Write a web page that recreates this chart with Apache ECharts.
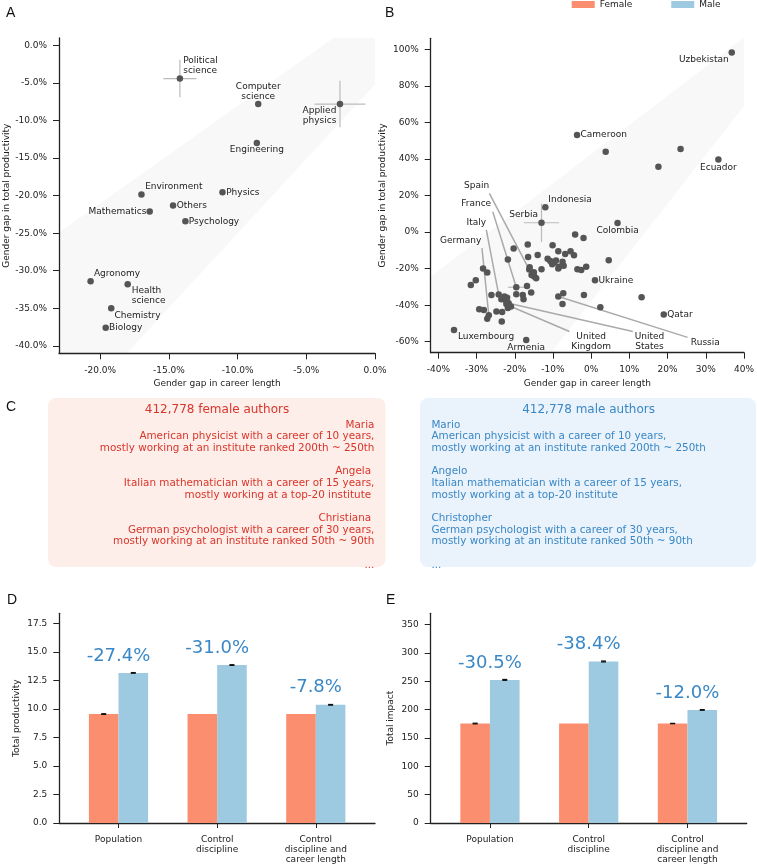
<!DOCTYPE html>
<html><head><meta charset="utf-8">
<script src="https://cdn.jsdelivr.net/npm/echarts@6/dist/echarts.min.js"></script>
<style>html,body{margin:0;padding:0;background:#fff}#c{width:757px;height:865px}</style>
</head><body><div id="c"></div>
<script>
// ---------- Panel A: disciplines ----------
const fieldNames = ['Political\nscience','Computer\nscience','Applied\nphysics','Engineering','Environment','Physics','Others','Mathematics','Psychology','Agronomy','Health\nscience','Chemistry','Biology'];
const fieldCareerGap = [-14.2,-8.5,-2.55,-8.6,-17.0,-11.1,-14.7,-16.4,-13.8,-20.7,-18.0,-19.2,-19.6];
const fieldProdGap   = [-4.4,-7.8,-7.8,-13.0,-19.85,-19.55,-21.3,-22.1,-23.4,-31.4,-31.8,-35.0,-37.6];
const fieldCareerErr = [1.2,0,1.85,0,0,0,0,0,0,0,0,0,0];
const fieldProdErr   = [2.5,0,3.1,0,0,0,0,0,0,0,0,0,0];
const bandAX = [-23,-3.03,0,0,-18.06,-23];
const bandAY = [-24.9,1,1,-5.2,-41,-41];
const ticksAX = [-20,-15,-10,-5,0];
const ticksAY = [-40,-35,-30,-25,-20,-15,-10,-5,0];

// ---------- Panel B: countries ----------
const countryNames = ['Uzbekistan','Cameroon','Ecuador','Indonesia','Serbia','Colombia','Ukraine','Qatar','Luxembourg','Armenia'];
const countryCareerGap = [36.8,-3.7,33.3,-12.0,-13.0,6.9,1.0,19.0,-35.9,-17.0];
const countryProdGap   = [98.2,53.1,39.7,13.6,5.1,4.9,-26.4,-45.1,-53.6,-59.0];
const leaderNames = ['Spain','France','Italy','Germany','United\nKingdom','United\nStates','Russia'];
const leaderCareerGap = [-16.2,-19.6,-24.2,-26.8,-21.0,-21.6,-8.6];
const leaderProdGap   = [-20.5,-30.2,-34.2,-45.5,-40.7,-39.0,-35.3];
const otherCareerGap = [3.8,23.4,17.6,-4.2,-2.0,4.6,-10.1,-4.5,-16.6,-20.3,-14.0,-16.5,-8.6,-6.8,-5.4,-21.8,-11.4,-10.7,-9.7,-9.2,-8.4,-7.5,-7.2,-8.6,-10.2,-28.3,-27.2,-16.1,-15.6,-14.4,-13.0,-15.0,-14.9,-3.6,-2.6,-1.3,-30.2,-31.5,-16.8,-26.1,-23.5,-22.7,-22.0,-22.2,-19.6,-17.9,-17.7,-15.7,-7.3,-7.5,-1.9,2.4,13.2,-29.3,-28.1,-27.2,-24.8,-23.3,-23.4,-21.8,-22.2];
const otherProdGap   = [43.9,45.5,35.7,-1.3,-3.3,-15.4,-7.2,-12.7,-6.8,-9.0,-12.5,-13.6,-10.5,-12.0,-10.5,-15.0,-14.6,-15.8,-16.8,-15.6,-19.0,-16.3,-18.4,-19.9,-17.6,-19.9,-22.1,-19.3,-23.5,-25.3,-20.4,-22.0,-24.3,-20.4,-20.8,-19.0,-26.3,-29.0,-29.5,-34.4,-36.7,-35.3,-35.9,-37.8,-34.0,-34.4,-36.7,-33.1,-33.5,-39.3,-34.4,-41.1,-35.7,-42.2,-42.6,-47.4,-43.5,-43.8,-48.9,-41.6,-39.3];
const errCountries = ['Serbia','France'];
const errCareerGap = [-13.0,-19.6];
const errProdGap   = [5.1,-30.2];
const errCareer    = [4.6,2.2];
const errProd      = [10.5,1.2];
const bandBX = [-42,39.7,40,40,-10.5,-42];
const bandBY = [-24.5,106,106,69,-66,-66];
const ticksBX = [-40,-30,-20,-10,0,10,20,30,40];
const ticksBY = [-60,-40,-20,0,20,40,60,80,100];

// ---------- Panel C ----------
const femaleTitle = '412,778 female authors';
const maleTitle = '412,778 male authors';
const femaleLines = ['Maria','American physicist with a career of 10 years,','mostly working at an institute ranked 200th ~ 250th',
  'Angela ','Italian mathematician with a career of 15 years,','mostly working at a top-20 institute ',
  'Christiana ','German psychologist with a career of 30 years,','mostly working at an institute ranked 50th ~ 90th','...'];
const maleLines = ['Mario','American physicist with a career of 10 years,','mostly working at an institute ranked 200th ~ 250th',
  'Angelo','Italian mathematician with a career of 15 years,','mostly working at a top-20 institute',
  'Christopher','German psychologist with a career of 30 years,','mostly working at an institute ranked 50th ~ 90th','...'];

// ---------- Panels D & E ----------
const groups = ['Population','Control\ndiscipline','Control\ndiscipline and\ncareer length'];
const femaleProd = [9.56,9.56,9.56];
const maleProd   = [13.17,13.86,10.37];
const femaleProdErr = [0.03,0,0];
const maleProdErr   = [0.03,0.03,0.03];
const gapLabelsD = ['-27.4%','-31.0%','-7.8%'];
const femaleImpact = [175.5,175.5,175.5];
const maleImpact   = [252.5,285,199.5];
const femaleImpactErr = [0.6,0,0.3];
const maleImpactErr   = [0.8,0.8,0.6];
const gapLabelsE = ['-30.5%','-38.4%','-12.0%'];
const ticksDY = [0,2.5,5,7.5,10,12.5,15,17.5];
const ticksEY = [0,50,100,150,200,250,300,350];

// ---------- styles ----------
const FONT = 'DejaVu Sans';
const INK = '#222';
const FEMALE = '#fb8e6f';
const MALE = '#9ecae1';
const BLUE_TXT = '#3a87c6';
const DOT = '#555';
const BAND = '#f8f8f8';

const labelA = {
  'Political\nscience':[3.3,-12.7,'left'], 'Computer\nscience':[0,-12.6,'center'], 'Applied\nphysics':[-3.6,11.7,'right'],
  'Engineering':[0,7,'center'], 'Environment':[3.7,-8,'left'], 'Physics':[3.7,0,'left'], 'Others':[3.7,0,'left'],
  'Mathematics':[-3.3,0,'right'], 'Psychology':[3.3,0,'left'], 'Agronomy':[3.3,-7.7,'left'],
  'Health\nscience':[4,11.7,'left'], 'Chemistry':[3.3,7,'left'], 'Biology':[3.3,0,'left']
};
const labelB = {
  'Uzbekistan':[-28,7,'center'], 'Cameroon':[3.5,0,'left'], 'Ecuador':[0,8,'center'], 'Indonesia':[3,-8,'left'],
  'Serbia':[-3.5,-8,'right'], 'Colombia':[0,7.5,'center'], 'Ukraine':[3.5,0,'left'], 'Qatar':[3.5,0,'left'],
  'Luxembourg':[4,6.7,'left'], 'Armenia':[0,7.5,'center']
};
// text offset (tx,ty) and leader start offset (lx,ly) in px relative to the point
const leaderLayout = {
  'Spain':[-52.6,-83.7,-39.9,-76.1], 'France':[-40.1,-83.3,-23.5,-75.6], 'Italy':[-22.4,-72.3,-12.4,-64.6],
  'Germany':[-28.1,-74.1,-6.8,-67.1], 'United\nKingdom':[80.2,35.1,58.5,25.1], 'United\nStates':[140.9,38.2,124.2,28.2],
  'Russia':[147,46.4,129.3,40.8]
};

function labeledData(names, xs, ys, layout) {
  return names.map((n, i) => {
    const L = layout[n];
    return { name: n, value: [xs[i], ys[i]],
      label: { show: true, position: 'inside', offset: [L[0], L[1]], align: L[2], verticalAlign: 'middle',
        formatter: '{b}', color: INK, fontSize: 9, fontFamily: FONT, lineHeight: 10 } };
  });
}
function polygonSeries(xi, xs, ys) {
  return { type: 'custom', xAxisIndex: xi, yAxisIndex: xi, clip: true, z: 0, silent: true,
    data: xs.map((x, i) => [x, ys[i]]),
    renderItem: (params, api) => {
      if (params.dataIndex !== 0) return null;
      const pts = xs.map((x, i) => api.coord([x, ys[i]]));
      return { type: 'polygon', shape: { points: pts }, style: { fill: BAND } };
    } };
}
function errSeries(xi, xs, ys, ex, ey) {
  return { type: 'custom', xAxisIndex: xi, yAxisIndex: xi, z: 1, silent: true,
    data: xs.map((x, i) => [x, ys[i], ex[i], ey[i]]),
    renderItem: (params, api) => {
      const x = api.value(0), y = api.value(1), a = api.value(2), b = api.value(3);
      if (!a && !b) return null;
      const l = api.coord([x - a, y]), r = api.coord([x + a, y]);
      const t = api.coord([x, y + b]), d = api.coord([x, y - b]);
      const st = { stroke: '#bbb', lineWidth: 1.2 };
      return { type: 'group', children: [
        { type: 'line', shape: { x1: l[0], y1: l[1], x2: r[0], y2: r[1] }, style: st },
        { type: 'line', shape: { x1: t[0], y1: t[1], x2: d[0], y2: d[1] }, style: st } ] };
    } };
}
function barSeries(name, xi, vals, errs, side, color, labels) {
  return { type: 'custom', name: name, xAxisIndex: xi, yAxisIndex: xi, itemStyle: { color: color },
    data: vals.map((v, i) => [i, v, errs[i]]),
    encode: { x: 0, y: 1 },
    renderItem: (params, api) => {
      const i = api.value(0), v = api.value(1), e = api.value(2);
      const x0 = side < 0 ? i - 0.3 : i, x1 = side < 0 ? i : i + 0.3;
      const tl = api.coord([x0, v]), br = api.coord([x1, 0]);
      const ch = [{ type: 'rect', shape: { x: tl[0], y: tl[1], width: br[0] - tl[0], height: br[1] - tl[1] }, style: { fill: color } }];
      if (e > 0) {
        const hi = api.coord([(x0 + x1) / 2, v + e]), lo = api.coord([(x0 + x1) / 2, v - e]);
        const st = { stroke: '#111', lineWidth: 1.2 };
        ch.push({ type: 'line', shape: { x1: hi[0] - 2.5, y1: hi[1], x2: hi[0] + 2.5, y2: hi[1] }, style: st });
        ch.push({ type: 'line', shape: { x1: lo[0] - 2.5, y1: lo[1], x2: lo[0] + 2.5, y2: lo[1] }, style: st });
        ch.push({ type: 'line', shape: { x1: hi[0], y1: hi[1], x2: lo[0], y2: lo[1] }, style: st });
      }
      if (labels) {
        const c = api.coord([i, v]);
        ch.push({ type: 'text', style: { text: labels[params.dataIndex], x: c[0], y: c[1] - 17, align: 'center',
          verticalAlign: 'middle', fill: BLUE_TXT, fontSize: 18, fontFamily: FONT } });
      }
      return { type: 'group', children: ch };
    } };
}
function valAxis(gi, min, max, ticks, fmt, extra) {
  return Object.assign({ type: 'value', gridIndex: gi, min: min, max: max, splitLine: { show: false },
    axisLine: { show: true, onZero: false, lineStyle: { color: INK, width: 1.3 } },
    axisTick: { show: true, length: 6, customValues: ticks, lineStyle: { color: INK, width: 1 } },
    axisLabel: { customValues: ticks, formatter: fmt, fontSize: 9, fontFamily: FONT, color: INK, margin: 12, lineHeight: 10 },
    nameTextStyle: { fontSize: 9, fontFamily: FONT, color: INK } }, extra || {});
}

const chart = echarts.init(document.getElementById('c'), null, { renderer: 'canvas' });

// Panel C graphics
const cGraphics = [
  { type: 'rect', shape: { x: 48, y: 398, width: 337.5, height: 169, r: 8 }, style: { fill: '#fdeee9' }, z: -1 },
  { type: 'rect', shape: { x: 420, y: 398, width: 336, height: 169, r: 8 }, style: { fill: '#eaf3fb' }, z: -1 },
  { type: 'text', x: 217, y: 410, style: { text: femaleTitle, fill: '#d9352b', fontSize: 12, fontFamily: FONT, align: 'center', verticalAlign: 'middle' } },
  { type: 'text', x: 588.6, y: 410, style: { text: maleTitle, fill: '#3a87c6', fontSize: 12, fontFamily: FONT, align: 'center', verticalAlign: 'middle' } }
];
function lineY(k) { return 425 + Math.floor(k / 3) * 46.67 + (k % 3) * 11.67; }
femaleLines.forEach((t, k) => cGraphics.push({ type: 'text', x: 374.4, y: lineY(k),
  style: { text: t, fill: '#d9352b', fontSize: 10.4, fontFamily: FONT, align: 'right', verticalAlign: 'middle' } }));
maleLines.forEach((t, k) => cGraphics.push({ type: 'text', x: 431.4, y: lineY(k),
  style: { text: t, fill: '#3a87c6', fontSize: 10.4, fontFamily: FONT, align: 'left', verticalAlign: 'middle' } }));
[['A', 6, 13], ['B', 385, 13], ['C', 6, 407], ['D', 7, 600], ['E', 386, 600]].forEach(p => cGraphics.push({
  type: 'text', x: p[1], y: p[2], style: { text: p[0], fill: '#111', fontSize: 14, fontFamily: 'Liberation Sans', align: 'left', verticalAlign: 'middle' } }));

const pct1 = v => v.toFixed(1) + '%';
const pct0 = v => v + '%';

chart.setOption({
  animation: false,
  backgroundColor: '#fff',
  textStyle: { fontFamily: FONT },
  legend: { left: 571.7, top: 0, padding: 0, icon: 'rect', itemWidth: 23, itemHeight: 7, itemGap: 39, selectedMode: false,
    textStyle: { fontSize: 9, fontFamily: FONT, color: INK },
    data: [{ name: 'Female', itemStyle: { color: FEMALE } }, { name: 'Male', itemStyle: { color: MALE } }] },
  grid: [
    { left: 59, top: 38, width: 316, height: 315.3 },
    { left: 430.7, top: 38.3, width: 316, height: 314.4 },
    { left: 59.3, top: 613.3, width: 315.7, height: 210 },
    { left: 430.7, top: 613.3, width: 316, height: 210 }
  ],
  xAxis: [
    valAxis(0, -23, 0, ticksAX, pct1, { name: 'Gender gap in career length', nameLocation: 'middle', nameGap: 26 }),
    valAxis(1, -42, 40, ticksBX, pct0, { name: 'Gender gap in career length', nameLocation: 'middle', nameGap: 26 }),
    valAxis(2, -0.6, 2.6, [0, 1, 2], v => groups[v], { axisTick: { show: true, length: 5, customValues: [0, 1, 2], lineStyle: { color: INK } } }),
    valAxis(3, -0.6, 2.6, [0, 1, 2], v => groups[v], { axisTick: { show: true, length: 5, customValues: [0, 1, 2], lineStyle: { color: INK } } })
  ],
  yAxis: [
    valAxis(0, -41, 1, ticksAY, pct1, { name: 'Gender gap in total productivity', nameLocation: 'middle', nameGap: 47.5 }),
    valAxis(1, -66, 106, ticksBY, pct0, { name: 'Gender gap in total productivity', nameLocation: 'middle', nameGap: 43.7 }),
    valAxis(2, 0, 18.4, ticksDY, v => v.toFixed(1), { name: 'Total productivity', nameLocation: 'middle', nameGap: 38 }),
    valAxis(3, 0, 370, ticksEY, v => String(v), { name: 'Total impact', nameLocation: 'middle', nameGap: 36 })
  ],
  graphic: cGraphics,
  series: [
    polygonSeries(0, bandAX, bandAY),
    errSeries(0, fieldCareerGap, fieldProdGap, fieldCareerErr, fieldProdErr),
    { type: 'scatter', xAxisIndex: 0, yAxisIndex: 0, symbolSize: 6.5, z: 3, itemStyle: { color: DOT, opacity: 1 },
      data: labeledData(fieldNames, fieldCareerGap, fieldProdGap, labelA) },

    polygonSeries(1, bandBX, bandBY),
    errSeries(1, errCareerGap, errProdGap, errCareer, errProd),
    { type: 'custom', xAxisIndex: 1, yAxisIndex: 1, z: 2, silent: true,
      data: leaderCareerGap.map((x, i) => [x, leaderProdGap[i]]),
      renderItem: (params, api) => {
        const n = leaderNames[params.dataIndex], L = leaderLayout[n];
        const p = api.coord([api.value(0), api.value(1)]);
        return { type: 'group', children: [
          { type: 'line', shape: { x1: p[0] + L[2], y1: p[1] + L[3], x2: p[0], y2: p[1] }, style: { stroke: '#aaa', lineWidth: 1.5 } },
          { type: 'text', style: { text: n, x: p[0] + L[0], y: p[1] + L[1], align: 'center', verticalAlign: 'middle',
            fill: INK, fontSize: 9, fontFamily: FONT, lineHeight: 10 } } ] };
      } },
    { type: 'scatter', xAxisIndex: 1, yAxisIndex: 1, symbolSize: 6.5, z: 3, itemStyle: { color: DOT, opacity: 1 },
      data: otherCareerGap.map((x, i) => [x, otherProdGap[i]]).concat(leaderCareerGap.map((x, i) => [x, leaderProdGap[i]])) },
    { type: 'scatter', xAxisIndex: 1, yAxisIndex: 1, symbolSize: 6.5, z: 3, itemStyle: { color: DOT, opacity: 1 },
      data: labeledData(countryNames, countryCareerGap, countryProdGap, labelB) },

    barSeries('Female', 2, femaleProd, femaleProdErr, -1, FEMALE, null),
    barSeries('Male', 2, maleProd, maleProdErr, 1, MALE, gapLabelsD),
    barSeries('Female', 3, femaleImpact, femaleImpactErr, -1, FEMALE, null),
    barSeries('Male', 3, maleImpact, maleImpactErr, 1, MALE, gapLabelsE)
  ]
});
</script></body></html>
